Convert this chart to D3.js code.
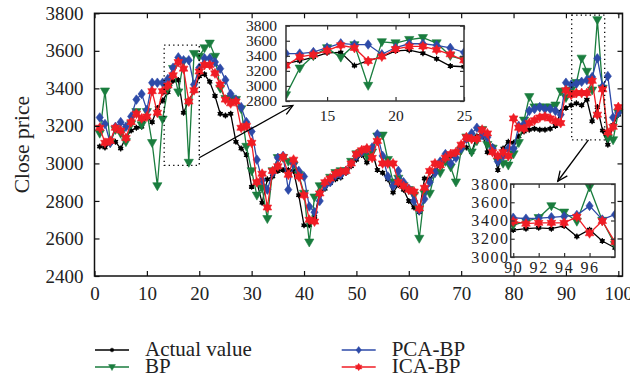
<!DOCTYPE html>
<html>
<head>
<meta charset="utf-8">
<script src="https://cdn.jsdelivr.net/npm/d3@7"></script>
<style>
body { margin: 0; background: #fff; }
text { font-family: "Liberation Serif", serif; fill: #222; }
</style>
</head>
<body>
<script>
// SVG size
let svgWidth = 630;
let svgHeight = 389;

// Data
let days = d3.range(1, 101);

let actual = [3090, 3085, 3110, 3115, 3080, 3140, 3175, 3190, 3195, 3250,
    3220, 3295, 3335, 3380, 3440, 3445, 3270, 3335, 3385, 3465,
    3475, 3435, 3360, 3265, 3255, 3265, 3115, 3080, 3045, 2875,
    2900, 2790, 2915, 2930, 2960, 2965, 2965, 2960, 2830, 2670,
    2670, 2715, 2845, 2865, 2895, 2915, 2925, 2950, 2985, 3020,
    3045, 3005, 3065, 2965, 2950, 2915, 2845, 2885, 2860, 2800,
    2765, 2740, 2920, 2915, 2960, 2990, 3010, 3040, 3060, 3080,
    3085, 3060, 3145, 3165, 3060, 3090, 2965, 3080, 3115, 3110,
    3145, 3170, 3180, 3185, 3180, 3180, 3185, 3200, 3275, 3295,
    3310, 3320, 3310, 3340, 3225, 3300, 3175, 3100, 3205, 3260];

let bp = [3160, 3385, 3110, 3180, 3160, 3115, 3210, 3275, 3205, 3275,
    3110, 2880, 3235, 3400, 3505, 3380, 3545, 3005, 3585, 3570,
    3615, 3640, 3570, 3400, 3345, 3345, 3340, 3290, 3090, 2960,
    2830, 2870, 2705, 2960, 3030, 3030, 3010, 2990, 2940, 2840,
    2580, 2820, 2880, 2880, 2925, 2950, 2960, 2960, 3010, 3050,
    3060, 3040, 3060, 3145, 3150, 3020, 2900, 2920, 2880, 2860,
    2830, 2600, 2840, 2840, 2950, 2950, 3010, 2980, 2900, 3070,
    3140, 3060, 3120, 3180, 3100, 3080, 3010, 3000, 2990, 3050,
    3110, 3230, 3355, 3300, 3300, 3300, 3300, 3310, 3385, 3350,
    3390, 3430, 3560, 3490, 3390, 3765, 3400, 3135, 3125, 3270];

let pcaBp = [3245, 3210, 3110, 3195, 3220, 3195, 3250, 3340, 3370, 3285,
    3430, 3430, 3430, 3450, 3510, 3565, 3550, 3550, 3420, 3510,
    3560, 3560, 3540, 3505, 3445, 3370, 3340, 3300, 3220, 3170,
    3020, 2910, 2860, 2950, 3030, 3040, 2860, 3000, 2960, 2930,
    2770, 2740, 2800, 2880, 2900, 2935, 2940, 2960, 3000, 3040,
    3060, 3075, 3085, 3155, 3040, 2930, 2880, 2960, 2900, 2865,
    2800, 2750, 2810, 2900, 2950, 3010, 3050, 3000, 3030, 3080,
    3130, 3160, 3190, 3150, 3140, 3080, 3010, 3040, 3080, 3080,
    3200, 3210, 3280, 3290, 3300, 3290, 3290, 3280, 3260, 3430,
    3420, 3425, 3435, 3445, 3460, 3560, 3410, 3465, 3245, 3270];

let icaBp = [3190, 3110, 3120, 3190, 3175, 3135, 3220, 3265, 3240, 3250,
    3385, 3270, 3385, 3415, 3470, 3540, 3505, 3330, 3390, 3490,
    3525, 3525, 3480, 3420, 3340, 3320, 3330, 3190, 3200, 3110,
    2900, 2945, 2765, 2960, 2985, 3035, 2940, 3020, 2930, 2830,
    2700, 2690, 2840, 2900, 2920, 2945, 2955, 2960, 3000, 3050,
    3070, 3080, 3030, 3120, 3000, 3000, 3000, 2900, 2880, 2860,
    2850, 2760, 2870, 2960, 3000, 2990, 3030, 3050, 3060, 3100,
    3140, 3130, 3130, 3180, 3160, 3060, 3040, 3060, 3040, 3240,
    3190, 3185, 3215, 3230, 3245, 3250, 3240, 3225, 3215, 3390,
    3365, 3375, 3375, 3375, 3440, 3260, 3395, 3165, 3195, 3300];

let seriesNames = ["Actual value", "BP", "PCA-BP", "ICA-BP"];
let xTicks = d3.range(0, 101, 10);
let yTicks = d3.range(2400, 3801, 200);
let inset1XTicks = [15, 20, 25];
let inset1YTicks = d3.range(2800, 3801, 200);
let inset2XTicks = [90, 92, 94, 96];
let inset2YTicks = d3.range(3000, 3801, 200);

// marker shapes
let markerPaths = {
    star: "M0,-3L0,3M-2.6,-1.5L2.6,1.5M-2.6,1.5L2.6,-1.5",
    triangle: "M-4.6,-3.2L4.6,-3.2L0,4.8Z",
    diamond: "M0,-4.8L3.6,0L0,4.8L-3.6,0Z",
    hexagram: "M0,-5L4.33,2.5L-4.33,2.5ZM0,5L-4.33,-2.5L4.33,-2.5Z"
};

let series = [
    { name: seriesNames[0], values: actual, color: "#000000", marker: "star" },
    { name: seriesNames[1], values: bp, color: "#1a7d3e", marker: "triangle" },
    { name: seriesNames[2], values: pcaBp, color: "#2d4aa8", marker: "diamond" },
    { name: seriesNames[3], values: icaBp, color: "#f01d25", marker: "hexagram" }
];

let svg = d3.select("body")
    .append("svg")
    .attr("width", svgWidth)
    .attr("height", svgHeight);

// draw a marker at (cx, cy)
function drawMarker(g, s, cx, cy, scale) {
    let k = scale || 1;
    if (s.marker == "star") {
        g.append("circle")
            .attr("cx", cx).attr("cy", cy).attr("r", 2.2 * k)
            .attr("fill", s.color);
    }
    g.append("path")
        .attr("d", markerPaths[s.marker])
        .attr("transform", `translate(${cx},${cy}) scale(${k})`)
        .attr("fill", s.color)
        .attr("fill-rule", "nonzero")
        .attr("stroke", s.color)
        .attr("stroke-width", s.marker == "star" ? 1.2 : 0.6);
}

// draw all series into a group with given scales
function drawSeries(g, x, y) {
    series.forEach(function(s) {
        let line = d3.line()
            .x((d, i) => x(days[i]))
            .y(d => y(d));
        g.append("path")
            .datum(s.values)
            .attr("d", line)
            .attr("fill", "none")
            .attr("stroke", s.color)
            .attr("stroke-width", 1.3);
        s.values.forEach(function(v, i) {
            if (x(days[i]) < x.range()[0] - 8 || x(days[i]) > x.range()[1] + 8) return;
            drawMarker(g, s, x(days[i]), y(v));
        });
    });
}

// framed axes with inward ticks on all four sides
function drawFrame(g, x, y, xt, yt, opts) {
    let x0 = x.range()[0], x1 = x.range()[1];
    let y0 = y.range()[0], y1 = y.range()[1];
    let fmt = d3.format("d");
    let left = g.append("g")
        .attr("transform", `translate(${x0},0)`)
        .call(d3.axisLeft(y).tickValues(yt).tickFormat(fmt).tickSize(-opts.tick).tickPadding(opts.yPad));
    let bottom = g.append("g")
        .attr("transform", `translate(0,${y0})`)
        .call(d3.axisBottom(x).tickValues(xt).tickFormat(fmt).tickSize(-opts.tick).tickPadding(opts.xPad));
    g.append("g")
        .attr("transform", `translate(${x1},0)`)
        .call(d3.axisRight(y).tickValues(yt).tickSize(-opts.tick).tickFormat(""));
    g.append("g")
        .attr("transform", `translate(0,${y1})`)
        .call(d3.axisTop(x).tickValues(xt).tickSize(-opts.tick).tickFormat(""));
    g.selectAll(".domain").remove();
    g.selectAll(".tick line").attr("stroke", opts.color).attr("stroke-width", 1.2);
    [left, bottom].forEach(a => a.selectAll("text")
        .attr("font-family", "Liberation Serif, serif")
        .attr("font-size", opts.font)
        .attr("letter-spacing", opts.spacing || 0)
        .attr("fill", opts.textColor));
    g.append("rect")
        .attr("x", x0).attr("y", y1)
        .attr("width", x1 - x0).attr("height", y0 - y1)
        .attr("fill", "none")
        .attr("stroke", opts.color)
        .attr("stroke-width", 1.5);
}

// ---------- main chart ----------
let xScale = d3.scaleLinear().domain([0, 100.8]).range([94.5, 622.5]);
let yScale = d3.scaleLinear().domain([2400, 3800]).range([276, 13.3]);

let mainGroup = svg.append("g");
drawSeries(mainGroup, xScale, yScale);
drawFrame(mainGroup, xScale, yScale, xTicks, yTicks,
    { tick: 5, yPad: 11, xPad: 11, font: 19, color: "#111", textColor: "#222" });

svg.append("text")
    .attr("transform", `translate(29, ${(13.3 + 276) / 2}) rotate(-90)`)
    .attr("text-anchor", "middle")
    .attr("font-size", 21.5)
    .text("Close price");

// dotted zoom boxes
let zoomBoxes = [
    { x0: 13.3, x1: 20, y0: 2990, y1: 3630 },
    { x0: 91.1, x1: 97.4, y0: 3125, y1: 3790 }
];
svg.selectAll(".zoom-box")
    .data(zoomBoxes)
    .enter()
    .append("rect")
    .attr("x", d => xScale(d.x0))
    .attr("y", d => yScale(d.y1))
    .attr("width", d => xScale(d.x1) - xScale(d.x0))
    .attr("height", d => yScale(d.y0) - yScale(d.y1))
    .attr("fill", "none")
    .attr("stroke", "#000")
    .attr("stroke-width", 1.3)
    .attr("stroke-dasharray", "1.3,3.2");

// ---------- insets ----------
let defs = svg.append("defs");
defs.append("marker")
    .attr("id", "arrow")
    .attr("viewBox", "-12 -7 14 14")
    .attr("markerWidth", 14).attr("markerHeight", 14)
    .attr("markerUnits", "userSpaceOnUse")
    .attr("orient", "auto")
    .append("path")
    .attr("d", "M-10,-4.5L0,0L-10,4.5")
    .attr("fill", "none")
    .attr("stroke", "#000")
    .attr("stroke-width", 1.3);

function drawInset(id, xd, xr, yd, yr, xt, yt, opts) {
    let x = d3.scaleLinear().domain(xd).range(xr);
    let y = d3.scaleLinear().domain(yd).range(yr);
    let g = svg.append("g");
    g.append("rect")
        .attr("x", xr[0]).attr("y", yr[1])
        .attr("width", xr[1] - xr[0]).attr("height", yr[0] - yr[1])
        .attr("fill", "#fff");
    defs.append("clipPath").attr("id", id)
        .append("rect")
        .attr("x", xr[0]).attr("y", yr[1])
        .attr("width", xr[1] - xr[0]).attr("height", yr[0] - yr[1]);
    let plot = g.append("g").attr("clip-path", `url(#${id})`);
    drawSeries(plot, x, y);
    drawFrame(g, x, y, xt, yt, opts);
    return { x: x, y: y };
}

let inset1 = drawInset("clip1", [12, 25], [286, 464], [2800, 3800], [101, 25.7],
    inset1XTicks, inset1YTicks,
    { tick: 4, yPad: 9, xPad: 9, font: 15.5, color: "#333", textColor: "#333" });
let inset2 = drawInset("clip2", [89.8, 98], [510.7, 615], [3000, 3800], [257, 184],
    inset2XTicks, inset2YTicks,
    { tick: 4, yPad: 1, xPad: 5, font: 16, spacing: 1.6, color: "#333", textColor: "#333" });

// arrows from zoom boxes to insets
let arrows = [
    { from: [xScale(20), yScale(3030)], to: [inset1.x(12.5), inset1.y(2740)] },
    { from: [xScale(94.3), yScale(3125)], to: [inset2.x(93.5), inset2.y(3830)] }
];
svg.selectAll(".arrow")
    .data(arrows)
    .enter()
    .append("line")
    .attr("x1", d => d.from[0]).attr("y1", d => d.from[1])
    .attr("x2", d => d.to[0]).attr("y2", d => d.to[1])
    .attr("stroke", "#000")
    .attr("stroke-width", 1.3)
    .attr("marker-end", "url(#arrow)");

// ---------- legend ----------
let legendCols = [95, 341.7];
let legendRows = [350, 367];
let legend = svg.append("g");
series.forEach(function(s, i) {
    let lx = legendCols[Math.floor(i / 2)];
    let ly = legendRows[i % 2];
    legend.append("line")
        .attr("x1", lx).attr("x2", lx + 34)
        .attr("y1", ly).attr("y2", ly)
        .attr("stroke", s.color)
        .attr("stroke-width", 1.3);
    drawMarker(legend, s, lx + 17, ly, 0.75);
    legend.append("text")
        .attr("x", lx + 50)
        .attr("y", ly + 6)
        .attr("font-size", 21)
        .text(s.name);
});
</script>
</body>
</html>
